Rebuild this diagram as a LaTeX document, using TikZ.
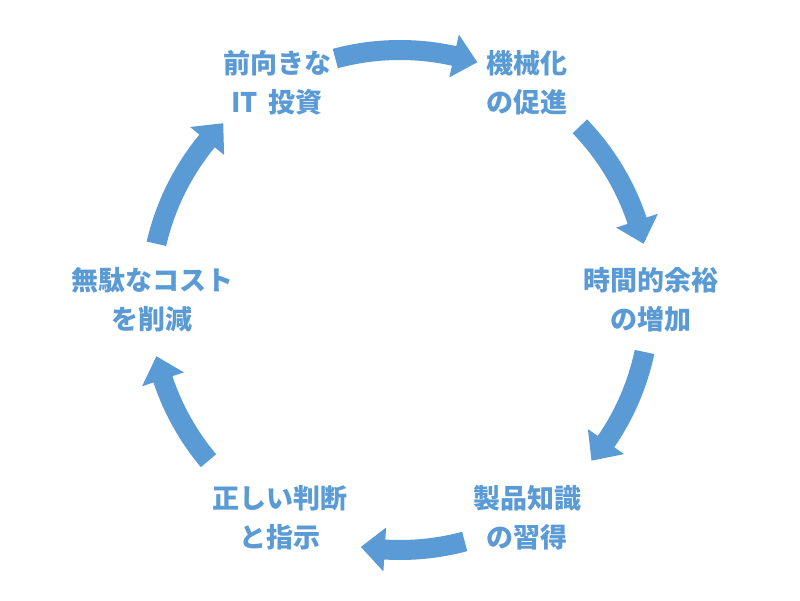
\documentclass[tikz,border=0pt]{standalone}
\usepackage{fontspec}
\newfontfamily\jp{Noto Sans CJK JP}
\usetikzlibrary{calc}
\definecolor{cycblue}{HTML}{5B9BD5}
\tikzset{
  lbl/.style={align=center, text=cycblue, inner sep=0pt,
    font=\jp\bfseries\fontsize{27}{39}\selectfont},
  blk/.style={fill=cycblue}
}
\begin{document}
\begin{tikzpicture}[x=1pt,y=1pt]
\useasboundingbox (0,0) rectangle (800,600);
\coordinate (C) at (400,300);
\node[lbl] (n1) at (277,517) {前向きな\\IT\, 投資};
\node[lbl] (n2) at (527,517) {機械化\\の促進};
\node[lbl] (n3) at (651,300) {時間的余裕\\の増加};
\node[lbl] (n4) at (527,82) {製品知識\\の習得};
\node[lbl] (n5) at (280,82) {正しい判断\\と指示};
\node[lbl] (n6) at (152,300) {無駄なコスト\\を削減};
\foreach \a/\b in {105/72, 44/13, -12/-40, -75/-99, 220/193, 167/135}{
  \pgfmathsetmacro\h{\b+5.5}
  \fill[blk] ($(C)+(\a:260pt)$) arc[start angle=\a, end angle=\h, radius=260pt]
    -- ($(C)+(\h:272pt)$) -- ($(C)+(\b:250pt)$) -- ($(C)+(\h:228pt)$)
    -- ($(C)+(\h:240pt)$) arc[start angle=\h, end angle=\a, radius=240pt] -- cycle;
}
\end{tikzpicture}
\end{document}
